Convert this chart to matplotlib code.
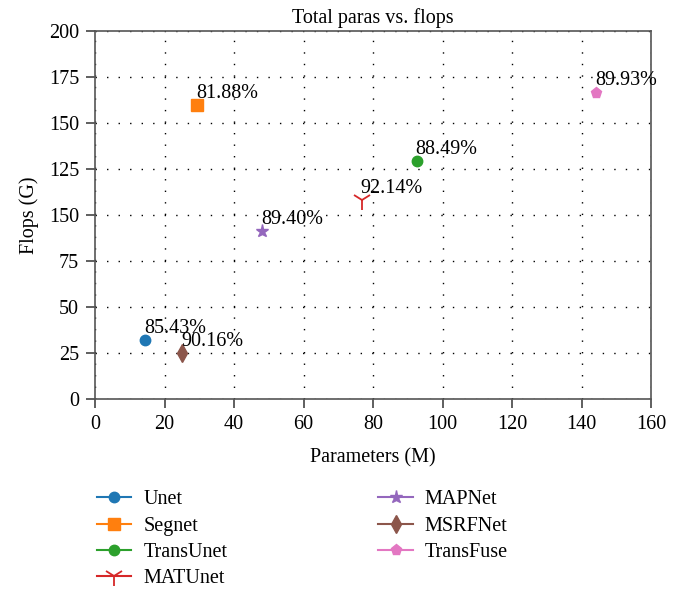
import matplotlib.pyplot as plt

plt.rcParams['font.family'] = ['Liberation Serif', 'DejaVu Serif']

models = ['Unet', 'Segnet', 'TransUnet', 'MATUnet', 'MAPNet', 'MSRFNet', 'TransFuse']
params = [14.5, 29.4, 92.6, 76.7, 48.0, 25.1, 144.2]
flops = [32.1, 159.8, 129.3, 108.0, 91.3, 24.8, 166.5]
acc = ['85.43%', '81.88%', '88.49%', '92.14%', '89.40%', '90.16%', '89.93%']
markers = ['o', 's', 'o', '1', '*', 'd', 'p']
msizes = [7.5, 8.5, 7.5, 14, 9.5, 9, 8]
colors = ['#1f77b4', '#ff7f0e', '#2ca02c', '#d62728', '#9467bd', '#8c564b', '#e377c2']

yticks = [0, 25, 50, 75, 100, 125, 150, 175, 200]
# the source figure labels the 100 tick as "150"
ytick_labels = ['0', '25', '50', '75', '150', '125', '150', '175', '200']

fs = 14.5

fig = plt.figure(figsize=(6.82, 5.93), dpi=100)
ax = fig.add_axes([95/682, 1-399/593, 556/682, 368/593])

for m, x, y, a, mk, ms, c in zip(models, params, flops, acc, markers, msizes, colors):
    ax.plot([x], [y], marker=mk, markersize=ms, color=c, linestyle='-', label=m,
            markeredgewidth=1.3 if mk == '1' else 1.0)
    ax.text(x - 0.3, y + 4.0, a, fontsize=fs, va='baseline', ha='left')

ax.set_xlim(0, 160)
ax.set_ylim(0, 200)
ax.set_xticks(range(0, 161, 20))
ax.set_yticks(yticks)
ax.set_yticklabels(ytick_labels)
ax.tick_params(labelsize=fs, color='#444444', length=6.5, width=1.2, pad=5)
for s in ax.spines.values():
    s.set_color('#555555')
    s.set_linewidth(1.2)
ax.grid(True, color='black', linestyle=(0, (1, 7.3)), linewidth=1.0)

ax.set_title('Total paras vs. flops', fontsize=fs, pad=6)
ax.set_xlabel('Parameters (M)', fontsize=fs, labelpad=10)
ax.set_ylabel('Flops (G)', fontsize=fs, labelpad=7)

fig.legend(loc='upper left', bbox_to_anchor=(79/682, 1-472/593), ncol=2,
           frameon=False, fontsize=fs, handlelength=1.7, handletextpad=0.6,
           columnspacing=7.5, labelspacing=0.36)

fig.savefig('out.png', dpi=100)
